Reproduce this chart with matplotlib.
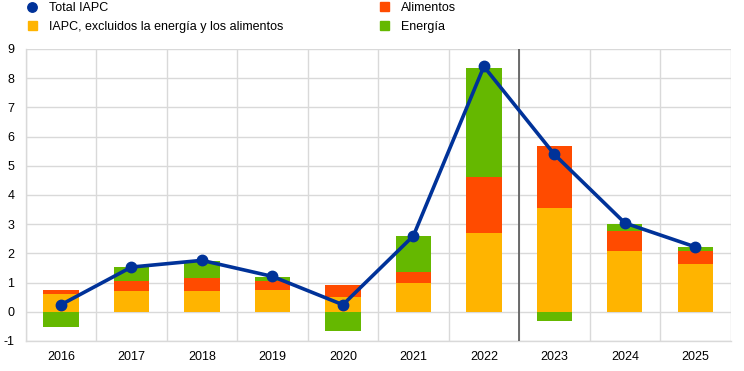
import matplotlib
matplotlib.use("Agg")
import matplotlib.pyplot as plt
import numpy as np
from matplotlib.lines import Line2D
from matplotlib.patches import Patch

plt.rcParams['font.family'] = ['Liberation Sans', 'DejaVu Sans']
plt.rcParams['axes.unicode_minus'] = False

years = ['2016', '2017', '2018', '2019', '2020', '2021', '2022', '2023', '2024', '2025']
core = [0.61, 0.72, 0.72, 0.75, 0.50, 0.99, 2.69, 3.55, 2.09, 1.63]
food = [0.14, 0.34, 0.42, 0.32, 0.42, 0.36, 1.91, 2.13, 0.66, 0.46]
energy = [-0.52, 0.47, 0.61, 0.12, -0.67, 1.23, 3.76, -0.31, 0.27, 0.13]
total = [0.24, 1.53, 1.76, 1.21, 0.24, 2.60, 8.40, 5.39, 3.04, 2.22]

c_core = '#FFB400'
c_food = '#FF4B00'
c_energy = '#65B800'
c_total = '#003299'

fig = plt.figure(figsize=(7.44, 3.71), dpi=100)
ax = fig.add_axes([0.0345, 0.081, 0.9475, 0.787])

x = np.arange(len(years))
core_a = np.array(core)
food_a = np.array(food)
en_a = np.array(energy)
pos_base = core_a + food_a
en_bottom = np.where(en_a >= 0, pos_base, 0)
w = 0.5
ax.bar(x, core_a, w, color=c_core, zorder=2)
ax.bar(x, food_a, w, bottom=core_a, color=c_food, zorder=2)
ax.bar(x, en_a, w, bottom=en_bottom, color=c_energy, zorder=2)
ax.plot(x, total, color=c_total, lw=2.6, marker='o', ms=7.5, zorder=4)

ax.axvline(6.5, color='#555555', lw=1.2, zorder=3)

ax.set_xlim(-0.5, 9.5)
ax.set_ylim(-1, 9)
ax.set_yticks(range(-1, 10))
ax.set_xticks(x)
ax.set_xticklabels(years)
ax.set_xticks(np.arange(-0.5, 10, 1), minor=True)
ax.grid(True, which='minor', axis='x', color='#D9D9D9', lw=1, zorder=0)
ax.grid(True, which='major', axis='y', color='#D9D9D9', lw=1, zorder=0)
ax.tick_params(which='both', length=0, labelsize=9, colors='#000000')
ax.tick_params(axis='x', pad=7)
ax.tick_params(axis='y', pad=8)
for s in ['top', 'right']:
    ax.spines[s].set_visible(False)
for s in ['left', 'bottom']:
    ax.spines[s].set_color('#D9D9D9')
    ax.spines[s].set_linewidth(1)

handles = [
    Line2D([0], [0], color=c_total, marker='o', ls='none', ms=6.8),
    Patch(color=c_core),
    Patch(color=c_food),
    Patch(color=c_energy),
]
labels = ['Total IAPC', 'IAPC, excluidos la energía y los alimentos', 'Alimentos', 'Energía']
fig.legend(handles, labels, ncol=2, loc='upper left', bbox_to_anchor=(0.031, 1.008),
           frameon=False, fontsize=9, handlelength=0.7, handleheight=0.7,
           handletextpad=1.0, columnspacing=7.7, labelspacing=0.57, borderaxespad=0)

fig.savefig('out.png', dpi=100)
